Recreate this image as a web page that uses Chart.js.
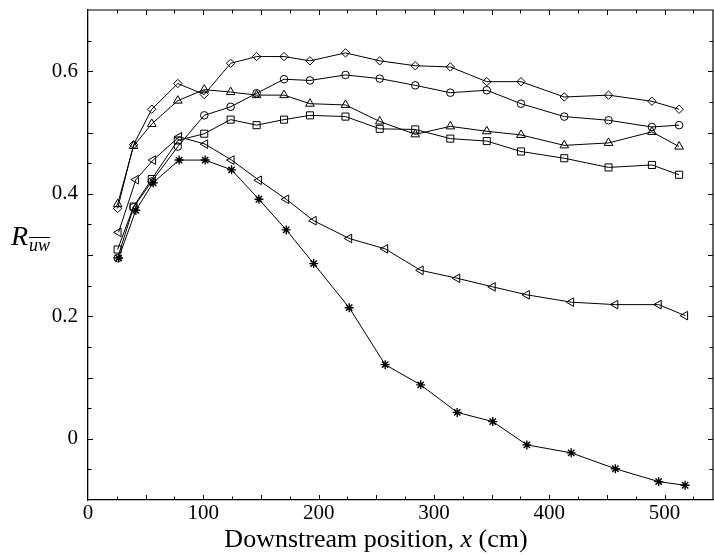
<!DOCTYPE html>
<html>
<head>
<meta charset="utf-8">
<script src="https://cdn.jsdelivr.net/npm/chart.js@4/dist/chart.umd.min.js"></script>
<style>
  html, body { margin: 0; padding: 0; background: #fff; }
  #wrap { width: 714px; height: 555px; }
</style>
</head>
<body>
<div id="wrap"><canvas id="c" width="714" height="555"></canvas></div>
<script>
// Downstream positions (cm)
const xA = [25.7, 39.5, 55.3, 77.9, 100.8, 123.7, 146.2, 170, 192.5, 223.3, 253, 283.8, 314.2, 345.8, 375.5, 413, 451.4, 489, 512.6];
const xB = [26.5, 41.5, 56.5, 79, 101.6, 124.5, 148.2, 171.9, 195.7, 226.5, 257.7, 288.5, 320.2, 351, 380.6, 419, 457.3, 494.9, 517.8];

// Correlation coefficient series
const diamondY = [0.376, 0.480, 0.538, 0.580, 0.562, 0.613, 0.624, 0.624, 0.617, 0.630, 0.617, 0.609, 0.607, 0.583, 0.583, 0.558, 0.561, 0.551, 0.538];
const circleY  = [0.295, 0.378, 0.420, 0.477, 0.528, 0.542, 0.564, 0.587, 0.585, 0.594, 0.588, 0.577, 0.565, 0.569, 0.547, 0.526, 0.520, 0.509, 0.512];
const triUpY   = [0.383, 0.478, 0.514, 0.552, 0.570, 0.566, 0.561, 0.561, 0.547, 0.545, 0.518, 0.497, 0.510, 0.502, 0.496, 0.479, 0.483, 0.501, 0.477];
const squareY  = [0.309, 0.379, 0.424, 0.487, 0.498, 0.521, 0.512, 0.521, 0.528, 0.526, 0.506, 0.505, 0.490, 0.486, 0.469, 0.458, 0.443, 0.447, 0.431];
const triLeftY = [0.337, 0.423, 0.455, 0.493, 0.481, 0.455, 0.422, 0.391, 0.356, 0.327, 0.310, 0.275, 0.262, 0.248, 0.235, 0.223, 0.219, 0.219, 0.201];
const starY    = [0.295, 0.373, 0.418, 0.455, 0.455, 0.439, 0.391, 0.341, 0.286, 0.214, 0.121, 0.088, 0.043, 0.028, -0.010, -0.023, -0.049, -0.070, -0.076];

// Axis ticks
const xTicks = [0, 100, 200, 300, 400, 500];
const yTicks = [0, 0.2, 0.4, 0.6];
const yTickLabels = ['0', '0.2', '0.4', '0.6'];

const SERIF = '"Liberation Serif", "DejaVu Serif", serif';

function pts(xs, ys) { return xs.map((x, i) => ({ x: x, y: ys[i] })); }

function series(data, style, radius, rotation, bw) {
  return {
    data: data,
    borderColor: '#000',
    borderWidth: 1,
    backgroundColor: 'rgba(0,0,0,0)',
    pointStyle: style,
    pointRadius: radius,
    pointRotation: rotation || 0,
    pointBorderColor: '#000',
    pointBackgroundColor: 'rgba(0,0,0,0)',
    pointBorderWidth: bw || 1,
    tension: 0,
    fill: false
  };
}

function noPad(s) { s.paddingTop = 0; s.paddingBottom = 0; s.paddingLeft = 0; s.paddingRight = 0; }

const decor = {
  id: 'decor',
  afterDraw(chart) {
    const { ctx, chartArea: a, scales: { x, y } } = chart;
    ctx.save();
    ctx.strokeStyle = '#000';
    ctx.lineWidth = 1.2;
    ctx.beginPath();
    ctx.moveTo(a.left, a.top);
    ctx.lineTo(a.right, a.top);
    ctx.lineTo(a.right, a.bottom);
    ctx.stroke();
    // inward ticks
    ctx.lineWidth = 1;
    ctx.beginPath();
    for (let k = 1; k * 25 <= x.max; k++) {
      const px = Math.round(x.getPixelForValue(k * 25)) + 0.5;
      const L = (k % 2 === 0) ? 5 : 3.5;
      ctx.moveTo(px, a.bottom); ctx.lineTo(px, a.bottom - L);
      ctx.moveTo(px, a.top); ctx.lineTo(px, a.top + L);
    }
    for (let k = -1; k <= 13; k++) {
      const py = Math.round(y.getPixelForValue(k * 0.05)) + 0.5;
      const L = (k % 2 === 0) ? 5 : 3.5;
      ctx.moveTo(a.left, py); ctx.lineTo(a.left + L, py);
      ctx.moveTo(a.right, py); ctx.lineTo(a.right - L, py);
    }
    ctx.stroke();

    // x-axis title with italic x
    ctx.fillStyle = '#000';
    ctx.textBaseline = 'alphabetic';
    const fN = '26px ' + SERIF, fI = 'italic 26px ' + SERIF;
    const p1 = 'Downstream position, ', p2 = 'x', p3 = ' (cm)';
    ctx.font = fN; const w1 = ctx.measureText(p1).width, w3 = ctx.measureText(p3).width;
    ctx.font = fI; const w2 = ctx.measureText(p2).width;
    const cx = 376, by = 547;
    let sx = cx - (w1 + w2 + w3) / 2;
    ctx.textAlign = 'left';
    ctx.font = fN; ctx.fillText(p1, sx, by); sx += w1;
    ctx.font = fI; ctx.fillText(p2, sx, by); sx += w2;
    ctx.font = fN; ctx.fillText(p3, sx, by);

    // y-axis title R with subscript uw overlined
    ctx.font = 'italic 28px ' + SERIF;
    ctx.fillText('R', 11, 245);
    const rw = ctx.measureText('R').width;
    ctx.font = 'italic 18px ' + SERIF;
    const sxs = 11 + rw + 1;
    ctx.fillText('uw', sxs, 251);
    const uw = ctx.measureText('uw').width;
    ctx.lineWidth = 1;
    ctx.beginPath();
    ctx.moveTo(sxs, 237.5); ctx.lineTo(sxs + uw, 237.5);
    ctx.stroke();
    ctx.restore();
  }
};

new Chart(document.getElementById('c'), {
  type: 'line',
  data: {
    datasets: [
      series(pts(xA, diamondY), 'rectRot', 4.2),
      series(pts(xA, circleY), 'circle', 3.8),
      series(pts(xA, triUpY), 'triangle', 5),
      series(pts(xA, squareY), 'rect', 5),
      series(pts(xB, triLeftY), 'triangle', 5, 270),
      series(pts(xB, starY), 'star', 4.5, 0, 1.4)
    ]
  },
  options: {
    responsive: false,
    animation: false,
    devicePixelRatio: 1,
    layout: { autoPadding: false, padding: { top: 10, right: 1, left: 0, bottom: 0 } },
    plugins: { legend: { display: false }, tooltip: { enabled: false } },
    elements: { line: { borderJoinStyle: 'miter' } },
    scales: {
      x: {
        type: 'linear',
        min: 0, max: 542,
        afterBuildTicks(s) { s.ticks = xTicks.map(v => ({ value: v })); },
        afterFit(s) { s.height = 55; noPad(s); },
        grid: { display: false, drawTicks: false },
        border: { display: true, color: '#000', width: 1.3 },
        ticks: {
          color: '#000', padding: 1, maxRotation: 0,
          font: { family: SERIF, size: 21 },
          callback: (v) => String(v)
        }
      },
      y: {
        type: 'linear',
        min: -0.1, max: 0.7,
        afterBuildTicks(s) { s.ticks = yTicks.map(v => ({ value: v })); },
        afterFit(s) { s.width = 88; noPad(s); },
        grid: { display: false, drawTicks: false },
        border: { display: true, color: '#000', width: 1.3 },
        ticks: {
          color: '#000', padding: 10,
          font: { family: SERIF, size: 21 },
          callback: (v) => { const i = yTicks.indexOf(v); return i >= 0 ? yTickLabels[i] : ''; }
        }
      }
    }
  },
  plugins: [decor]
});
</script>
</body>
</html>
